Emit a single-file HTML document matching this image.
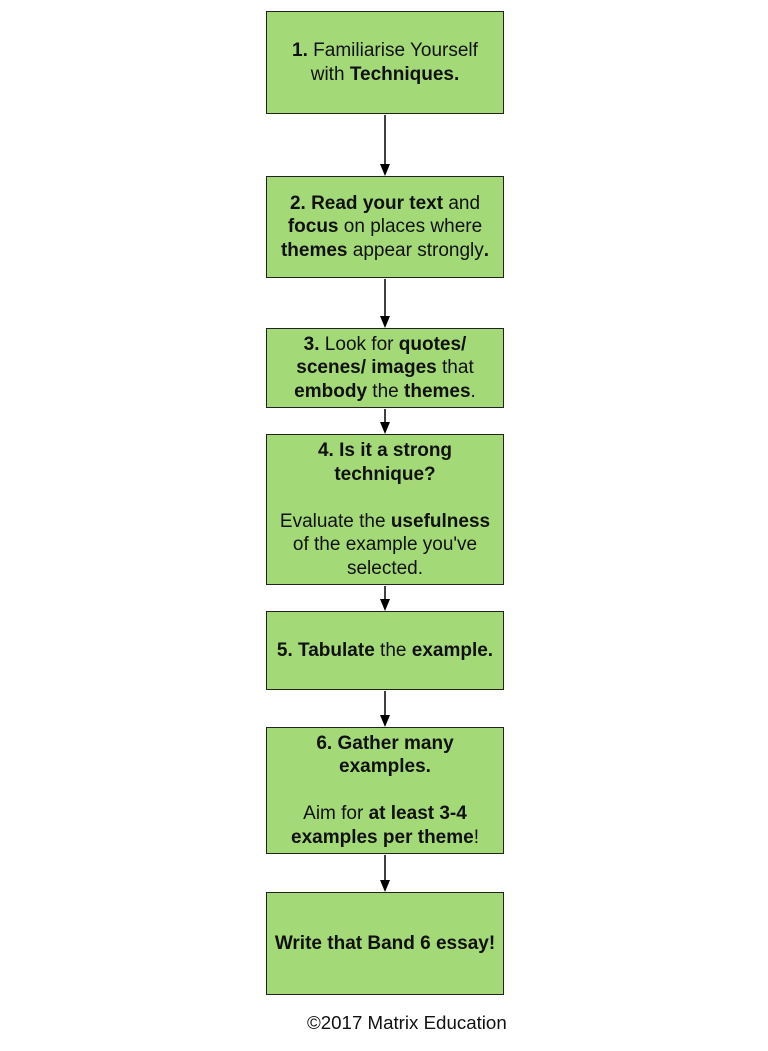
<!DOCTYPE html>
<html><head><style>
body{margin:0;width:768px;height:1051px;background:#fff;position:relative;font-family:"Liberation Sans",sans-serif;}
.b{position:absolute;left:266px;width:236px;background:#a3d977;border:1.5px solid #222;display:flex;align-items:center;justify-content:center;text-align:center;font-size:19px;line-height:23.5px;color:#111;}
.b div{width:219px}
svg{position:absolute;left:0;top:0}
.f{position:absolute;left:307px;top:1012px;font-size:18.7px;color:#111;white-space:nowrap}
</style></head><body>
<svg width="768" height="1051">
<g stroke="#000" stroke-width="1.5">
<line x1="385" y1="115" x2="385" y2="166"/><line x1="385" y1="279" x2="385" y2="318"/><line x1="385" y1="409" x2="385" y2="424"/><line x1="385" y1="586" x2="385" y2="601"/><line x1="385" y1="691" x2="385" y2="717"/><line x1="385" y1="855" x2="385" y2="882"/>
</g>
<g fill="#000">
<path d="M380,164 L390,164 L385,176z"/><path d="M380,316 L390,316 L385,328z"/><path d="M380,422 L390,422 L385,434z"/><path d="M380,599 L390,599 L385,611z"/><path d="M380,715 L390,715 L385,727z"/><path d="M380,880 L390,880 L385,892z"/>
</g>
</svg>
<div class="b" style="top:11px;height:101px"><div><b>1.</b> Familiarise Yourself with <b>Techniques.</b></div></div>
<div class="b" style="top:176px;height:100px"><div><b>2. Read your text</b> and <b>focus</b> on places where <b>themes</b> appear strongly<b>.</b></div></div>
<div class="b" style="top:328px;height:78px"><div><b>3.</b> Look for <b>quotes/ scenes/ images</b> that <b>embody</b> the <b>themes</b>.</div></div>
<div class="b" style="top:434px;height:149px"><div><b>4. Is it a strong technique?</b><br><br>Evaluate the <b>usefulness</b> of the example you've selected.</div></div>
<div class="b" style="top:611px;height:77px"><div style="width:236px;white-space:nowrap"><b>5. Tabulate</b> the <b>example.</b></div></div>
<div class="b" style="top:727px;height:125px"><div><b>6. Gather many examples.</b><br><br>Aim for <b>at least 3-4 examples per theme</b>!</div></div>
<div class="b" style="top:892px;height:101px"><div style="width:236px;white-space:nowrap"><b>Write that Band 6 essay!</b></div></div>
<div class="f">©2017 Matrix Education</div>
</body></html>
